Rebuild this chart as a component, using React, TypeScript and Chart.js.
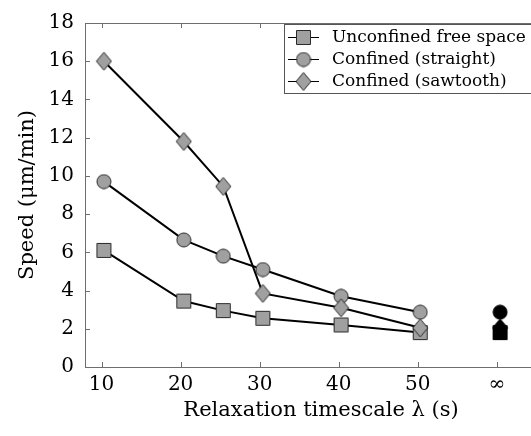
import React, { useEffect, useRef } from 'react';
import { Chart, registerables } from 'chart.js';

Chart.register(...registerables);

// ---- data ----
const seriesNames = ['Unconfined free space', 'Confined (straight)', 'Confined (sawtooth)'];
const lambdaPositions = [10.3, 20.4, 25.4, 30.4, 40.3, 50.3];
const unconfinedSpeed = [6.1, 3.45, 2.95, 2.55, 2.2, 1.8];
const straightSpeed = [9.7, 6.65, 5.8, 5.1, 3.7, 2.87];
const sawtoothSpeed = [16.0, 11.8, 9.45, 3.85, 3.1, 2.05];
const infinityPosition = [60.4];
const unconfinedInfinity = [1.8];
const straightInfinity = [2.87];
const sawtoothInfinity = [2.05];
const xTickValues = [10, 20, 30, 40, 50, 60];
const xTickLabels = ['10', '20', '30', '40', '50', '∞'];
const yTickValues = [0, 2, 4, 6, 8, 10, 12, 14, 16, 18];

const FONT = "'DejaVu Serif', serif";
const AXIS_COLOR = '#6e6e6e';
const CANVAS_W = 557;
const CANVAS_H = 436;

type Shape = 'square' | 'circle' | 'diamond';

function makeMarker(shape: Shape, fill: string, stroke: string): HTMLCanvasElement {
  const c = document.createElement('canvas');
  const w = shape === 'circle' ? 16 : 17;
  const h = shape === 'diamond' ? 20 : w;
  c.width = w;
  c.height = h;
  const ctx = c.getContext('2d')!;
  ctx.fillStyle = fill;
  ctx.strokeStyle = stroke;
  ctx.lineWidth = 1;
  ctx.beginPath();
  if (shape === 'square') {
    ctx.rect(1.5, 1.5, 14, 14);
  } else if (shape === 'circle') {
    ctx.arc(w / 2, h / 2, 7, 0, Math.PI * 2);
  } else {
    ctx.moveTo(w / 2, 1);
    ctx.lineTo(w - 1, h / 2);
    ctx.lineTo(w / 2, h - 1);
    ctx.lineTo(1, h / 2);
    ctx.closePath();
  }
  ctx.fill();
  ctx.stroke();
  return c;
}

const zip = (xs: number[], ys: number[]) => ys.map((y, i) => ({ x: xs[i], y }));

export default function App() {
  const ref = useRef<HTMLCanvasElement>(null);
  useEffect(() => {
    document.body.style.margin = '0';
    document.body.style.overflow = 'hidden';
    document.documentElement.style.overflow = 'hidden';
    const gray = '#a0a0a0';
    const edge = '#2a2a2a';
    const shapes: Shape[] = ['square', 'circle', 'diamond'];
    const grayMarkers = shapes.map((s) => makeMarker(s, gray, edge));
    const blackMarkers = shapes.map((s) => makeMarker(s, '#000', '#000'));
    const seriesValues = [unconfinedSpeed, straightSpeed, sawtoothSpeed];
    const infValues = [unconfinedInfinity, straightInfinity, sawtoothInfinity];

    const datasets: any[] = [];
    seriesValues.forEach((vals, i) => {
      datasets.push({
        label: seriesNames[i],
        data: zip(lambdaPositions, vals),
        borderColor: '#000',
        borderWidth: 2,
        pointStyle: grayMarkers[i],
        pointRadius: 8,
        showLine: true,
        order: 6 - i,
      });
    });
    infValues.forEach((vals, i) => {
      datasets.push({
        label: seriesNames[i] + ' ∞',
        data: zip(infinityPosition, vals),
        showLine: false,
        pointStyle: blackMarkers[i],
        pointRadius: 8,
        order: 3 - i,
      });
    });

    const framePlugin = {
      id: 'frame',
      afterLayout(chart: any) {
        // the axes run past the visible picture: extend the plot area to the canvas' right edge
        const a = chart.chartArea;
        const x = chart.scales.x;
        if (a.right !== chart.width) {
          a.right = chart.width;
          a.width = a.right - a.left;
          x.right = chart.width;
          x.width = x.right - x.left;
          x.configure();
          x._labelItems = null;
          x._gridLineItems = null;
        }
      },
      beforeDatasetsDraw(chart: any) {
        const { ctx, chartArea: a, scales } = chart;
        ctx.save();
        ctx.strokeStyle = AXIS_COLOR;
        ctx.lineWidth = 1;
        ctx.beginPath();
        ctx.moveTo(a.right, a.top + 0.5);
        ctx.lineTo(a.left + 0.5, a.top + 0.5);
        ctx.lineTo(a.left + 0.5, a.bottom + 0.5);
        ctx.lineTo(a.right, a.bottom + 0.5);
        const tl = 5;
        xTickValues.forEach((v) => {
          const px = Math.round(scales.x.getPixelForValue(v)) + 0.5;
          ctx.moveTo(px, a.bottom);
          ctx.lineTo(px, a.bottom - tl);
          ctx.moveTo(px, a.top);
          ctx.lineTo(px, a.top + tl);
        });
        yTickValues.forEach((v) => {
          const py = Math.round(scales.y.getPixelForValue(v)) + 0.5;
          ctx.moveTo(a.left, py);
          ctx.lineTo(a.left + tl, py);
        });
        ctx.stroke();
        ctx.restore();
      },
      afterDraw(chart: any) {
        const { ctx } = chart;
        ctx.save();
        const bx = 284.5, by = 24.5, bw = 262, bh = 69;
        ctx.fillStyle = '#fff';
        ctx.fillRect(bx, by, bw, bh);
        ctx.strokeStyle = '#555';
        ctx.lineWidth = 1;
        ctx.strokeRect(bx, by, bw, bh);
        const rows = [37, 59, 81];
        ctx.font = `17px ${FONT}`;
        ctx.fillStyle = '#000';
        ctx.textBaseline = 'middle';
        rows.forEach((ry, i) => {
          ctx.strokeStyle = '#000';
          ctx.lineWidth = 1;
          ctx.beginPath();
          ctx.moveTo(288, ry + 0.5);
          ctx.lineTo(319, ry + 0.5);
          ctx.stroke();
          const m = grayMarkers[i];
          ctx.drawImage(m, 303.5 - m.width / 2, ry - m.height / 2 + 0.5);
          ctx.fillText(seriesNames[i], 332, ry + 1);
        });
        ctx.restore();
      },
    };

    const chart = new Chart(ref.current!, {
      type: 'scatter',
      data: { datasets },
      options: {
        animation: false,
        responsive: false,
        maintainAspectRatio: false,
        devicePixelRatio: 1,
        layout: { padding: { top: 20, right: 0, left: 0, bottom: 0 } },
        plugins: { legend: { display: false }, tooltip: { enabled: false } },
        scales: {
          x: {
            type: 'linear',
            min: 7.91,
            max: 67.6,
            afterFit: (s: any) => { s.height = 69; s.paddingLeft = 0; s.paddingRight = 0; },
            afterBuildTicks: (s: any) => { s.ticks = xTickValues.map((v) => ({ value: v })); },
            grid: { display: false, drawTicks: false },
            border: { display: false },
            ticks: {
              autoSkip: false,
              maxRotation: 0,
              padding: 6,
              color: '#000',
              font: { family: FONT, size: 20 },
              callback: (v: any) => xTickLabels[xTickValues.indexOf(Number(v))] ?? '',
            },
            title: {
              display: true,
              text: 'Relaxation timescale λ (s)',
              color: '#000',
              font: { family: FONT, size: 21 },
              padding: { top: 0, bottom: 13 },
            },
          },
          y: {
            type: 'linear',
            min: 0,
            max: 18,
            afterFit: (s: any) => { s.width = 85; },
            afterBuildTicks: (s: any) => { s.ticks = yTickValues.map((v) => ({ value: v })); },
            grid: { display: false, drawTicks: false },
            border: { display: false },
            ticks: {
              padding: 11,
              color: '#000',
              font: { family: FONT, size: 20 },
            },
            title: {
              display: true,
              text: 'Speed (μm/min)',
              color: '#000',
              font: { family: FONT, size: 21 },
              padding: { top: 15, bottom: 0 },
            },
          },
        },
      },
      plugins: [framePlugin],
    });
    return () => chart.destroy();
  }, []);
  return (
    <div style={{ position: 'absolute', left: 0, top: 0, width: CANVAS_W, height: CANVAS_H }}>
      <canvas ref={ref} width={CANVAS_W} height={CANVAS_H} style={{ width: CANVAS_W, height: CANVAS_H, display: 'block' }} />
    </div>
  );
}
